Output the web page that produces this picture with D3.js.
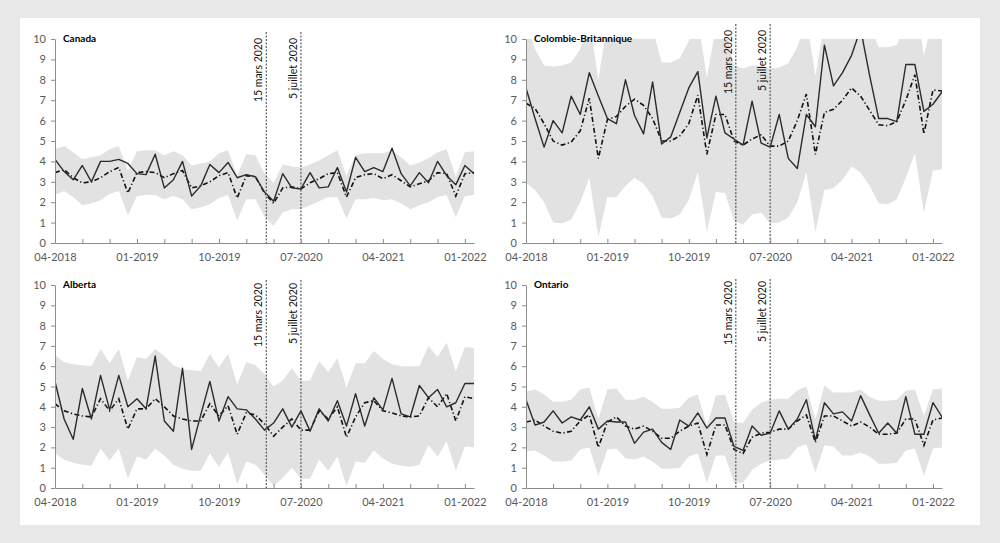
<!DOCTYPE html>
<html>
<head>
<meta charset="utf-8">
<script src="https://cdn.jsdelivr.net/npm/d3@7"></script>
<style>
  body { margin: 0; background: #e8e8e8; }
  svg { display: block; font-family: Lato, "Open Sans", sans-serif; }
</style>
</head>
<body>
<div id="chart"></div>
<script>
// Monthly series, 04-2018 .. 02-2022 (47 months)
const xLabels = ["04-2018", "01-2019", "10-2019", "07-2020", "04-2021", "01-2022"];
const eventLabels = ["15 mars 2020", "5 juillet 2020"];
const eventMonths = [23.2, 27.0]; // position on the month index axis

const canadaObs = [4.1,3.5,3.1,3.8,3.0,4.0,4.0,4.1,3.9,3.4, 3.35,4.35,2.7,3.1,4.0,2.3,2.8,3.85,3.45,3.95, 3.2,3.35,3.25,2.5,2.05,3.4,2.7,2.65,3.45,2.7, 2.75,3.7,2.5,4.2,3.5,3.7,3.5,4.65,3.4,2.8, 3.45,2.95,4.0,3.3,2.85,3.8,3.4];
const canadaPred = [3.45,3.6,3.2,2.95,3.0,3.2,3.5,3.7,2.45,3.45, 3.5,3.45,3.2,3.4,3.55,2.7,2.8,3.0,3.3,3.45, 2.2,3.3,3.25,2.45,1.95,2.7,2.75,2.65,2.95,3.15, 3.4,3.45,2.25,3.2,3.35,3.4,3.15,3.35,3.05,2.75, 2.9,3.05,3.45,3.4,2.3,3.4,3.45];
const canadaHigh = [4.6,4.75,4.45,4.1,4.2,4.3,4.6,4.75,3.55,4.5, 4.55,4.55,4.3,4.5,4.3,3.8,3.9,4.0,4.4,4.55, 3.3,4.35,4.3,3.4,2.95,3.85,3.75,3.7,3.85,4.05, 4.3,4.55,3.3,4.3,4.4,4.4,4.4,4.55,4.2,3.8, 3.95,4.15,4.45,4.6,3.25,4.45,4.5];
const canadaLow = [2.35,2.55,2.25,1.85,1.95,2.1,2.4,2.55,1.35,2.3, 2.35,2.35,2.15,2.3,2.15,1.65,1.75,1.9,2.2,2.35, 1.1,2.15,2.15,1.3,0.85,1.5,1.65,1.65,1.85,2.05, 2.25,2.25,1.2,2.15,2.15,2.2,2.1,2.15,1.95,1.65, 1.85,2.0,2.25,2.35,1.25,2.3,2.35];

const cbObs = [7.6,6.1,4.7,6.0,5.4,7.2,6.3,8.35,7.2,6.1, 5.85,8.0,6.25,5.35,7.9,4.85,5.2,6.4,7.6,8.4, 5.15,7.2,5.4,5.1,4.8,6.95,4.9,4.7,6.3,4.15, 3.65,6.3,5.7,9.7,7.7,8.35,9.2,10.5,8.2,6.1, 6.1,5.95,8.75,8.75,6.45,6.8,7.4];
const cbPred = [6.85,6.6,5.85,5.0,4.8,4.95,5.5,7.1,4.15,6.05, 6.2,6.7,7.05,6.75,6.1,5.0,5.0,5.25,5.85,7.25, 4.35,6.3,6.3,5.0,4.8,5.1,5.3,4.75,4.75,5.0, 6.0,7.3,4.35,6.4,6.55,7.0,7.6,7.2,6.5,5.8, 5.75,5.95,7.0,8.25,5.35,7.5,7.45];
const cbHigh = [10.8,9.5,8.7,8.65,8.7,8.85,9.5,11,8.0,10.8, 10.8,11,11,11,10.5,8.85,8.85,9.05,9.9,11, 8.1,10.6,10.6,8.7,8.55,8.7,8.7,8.55,8.6,8.8, 9.6,11,8.2,10.8,10.8,11,11.5,11,10.6,9.6, 9.6,9.7,10.8,12,9.2,11,11];
const cbLow = [2.95,2.6,2.0,1.0,0.95,1.15,2.0,3.2,0.3,2.25, 2.25,2.8,3.2,2.9,2.3,1.25,1.2,1.4,2.1,3.45, 0.55,2.5,2.45,1.1,0.9,1.4,1.5,0.95,1.0,1.25, 2.0,3.45,0.55,2.6,2.7,3.1,3.75,3.45,2.8,1.95, 1.9,2.15,3.2,4.4,1.5,3.55,3.6];

const abObs = [5.25,3.4,2.4,4.9,3.4,5.55,3.85,5.55,4.0,4.4, 3.9,6.5,3.3,2.8,5.9,1.9,3.6,5.25,3.3,4.5, 3.9,3.85,3.4,2.85,3.2,3.9,3.0,3.8,2.8,3.9, 3.3,4.3,3.05,4.65,3.05,4.45,3.85,5.4,3.65,3.5, 5.05,4.45,4.85,4.0,4.2,5.15,5.15];
const abPred = [4.15,3.8,3.65,3.55,3.5,4.4,3.8,4.4,2.9,3.9, 3.9,4.4,4.0,3.55,3.4,3.3,3.3,4.15,3.55,4.05, 2.65,3.7,3.6,3.15,2.55,3.0,3.4,2.85,2.85,3.8, 3.4,4.0,2.5,3.5,4.2,4.3,3.8,3.7,3.55,3.5, 3.55,4.45,4.0,4.65,3.3,4.5,4.4];
const abHigh = [6.55,6.2,6.1,6.05,6.0,6.85,6.15,6.85,5.3,6.45, 6.35,6.85,6.5,6.05,5.85,5.8,5.75,6.6,5.95,6.6, 5.1,6.2,6.05,5.6,5.0,5.3,5.9,5.3,5.3,6.25, 5.7,6.4,4.95,6.15,6.15,6.75,6.35,6.1,6.0,6.0, 6.0,7.0,6.45,7.15,5.75,6.95,6.9];
const abLow = [1.7,1.4,1.25,1.15,1.1,1.95,1.35,1.95,0.45,1.55, 1.4,1.95,1.6,1.15,0.95,0.85,0.85,1.7,1.05,1.75, 0.2,1.3,1.15,0.65,0.1,0.5,1.0,0.45,0.45,1.4, 0.85,1.55,0.1,1.3,1.25,1.85,1.45,1.2,1.1,1.05, 1.15,2.1,1.55,2.3,0.85,2.05,2.0];

const onObs = [4.35,3.1,3.25,3.8,3.2,3.5,3.35,4.0,2.9,3.3, 3.25,3.25,2.2,2.75,2.9,2.25,1.9,3.35,3.05,3.7, 2.95,3.45,3.45,2.05,1.85,3.05,2.6,2.7,3.8,2.9, 3.4,4.35,2.35,4.2,3.65,3.75,3.3,4.55,3.6,2.7, 3.2,2.7,4.5,2.65,2.65,4.2,3.5];
const onPred = [3.25,3.35,3.05,2.8,2.7,2.8,3.3,3.6,2.0,3.25, 3.5,3.05,2.9,3.05,2.8,2.45,2.45,2.8,3.05,3.2, 1.65,3.1,3.1,1.9,1.7,2.5,2.7,2.75,2.9,2.9, 3.3,3.6,2.25,3.55,3.55,3.3,3.05,3.25,3.0,2.65, 2.65,2.7,3.4,3.4,2.1,3.35,3.45];
const onHigh = [4.75,4.85,4.6,4.25,4.25,4.35,4.85,4.95,3.4,4.85, 4.9,4.35,4.35,4.5,4.25,3.9,3.9,3.95,4.45,4.6, 3.05,4.55,4.6,3.25,3.2,3.85,4.2,4.35,4.4,4.4, 4.8,5.0,3.4,5.05,4.7,4.7,4.7,4.85,4.5,4.3, 4.3,4.35,4.8,4.85,3.55,4.85,4.9];
const onLow = [1.8,1.85,1.6,1.3,1.3,1.35,1.9,2.0,0.6,1.9, 1.95,1.45,1.4,1.55,1.3,0.95,0.95,1.0,1.55,1.7, 0.25,1.6,1.6,0.3,0.25,0.9,1.2,1.35,1.4,1.45, 2.0,2.15,0.75,2.1,2.05,1.6,1.6,1.75,1.55,1.2, 1.2,1.25,1.85,1.95,0.6,1.95,2.0];

// Panels
const panels = [
  { name: "Canada", obs: canadaObs, pred: canadaPred, high: canadaHigh, low: canadaLow,
    left: 55, right: 474, top: 39, bottom: 243, markTop: 32, labelTop: 38 },
  { name: "Colombie-Britannique", obs: cbObs, pred: cbPred, high: cbHigh, low: cbLow,
    left: 526, right: 942, top: 39, bottom: 243, markTop: 24, labelTop: 30 },
  { name: "Alberta", obs: abObs, pred: abPred, high: abHigh, low: abLow,
    left: 55, right: 474, top: 285, bottom: 488, markTop: 280, labelTop: 283 },
  { name: "Ontario", obs: onObs, pred: onPred, high: onHigh, low: onLow,
    left: 526, right: 942, top: 285, bottom: 488, markTop: 279, labelTop: 281 }
];

const width = 1000;
const height = 543;

const svg = d3.select("#chart").append("svg")
  .attr("width", width)
  .attr("height", height);

// Frame
svg.append("rect").attr("width", width).attr("height", height).attr("fill", "#e8e8e8");
svg.append("rect").attr("x", 20).attr("y", 18).attr("width", 960).attr("height", 507).attr("fill", "#fff");

panels.forEach((p, pi) => {
  const n = p.obs.length;
  const x = d3.scaleLinear().domain([0, n - 1]).range([p.left, p.right]);
  const y = d3.scaleLinear().domain([0, 10]).range([p.bottom, p.top]);

  const clipId = "clip" + pi;
  svg.append("clipPath").attr("id", clipId)
    .append("rect")
      .attr("x", p.left).attr("y", p.top)
      .attr("width", p.right - p.left).attr("height", p.bottom - p.top);

  const g = svg.append("g");
  const plot = g.append("g").attr("clip-path", `url(#${clipId})`);

  // Confidence band
  const band = d3.area()
    .x((d, i) => x(i))
    .y0((d, i) => y(p.low[i]))
    .y1((d, i) => y(p.high[i]));

  plot.append("path")
    .datum(p.high)
    .attr("fill", "#e2e2e2")
    .attr("d", band);

  // Event markers
  eventMonths.forEach((m, i) => {
    g.append("line")
      .attr("x1", x(m)).attr("x2", x(m))
      .attr("y1", p.markTop).attr("y2", p.bottom)
      .attr("stroke", "#5a5a5a")
      .attr("stroke-width", 1.2)
      .attr("stroke-dasharray", "2,1.5");

    g.append("text")
      .attr("transform", `translate(${x(m) - 4},${p.labelTop}) rotate(-90)`)
      .attr("text-anchor", "end")
      .attr("font-size", 10.5)
      .attr("fill", "#111")
      .text(eventLabels[i]);
  });

  const line = d3.line()
    .x((d, i) => x(i))
    .y(d => y(d));

  // Predicted (dash-dot)
  plot.append("path")
    .datum(p.pred)
    .attr("fill", "none")
    .attr("stroke", "#111")
    .attr("stroke-width", 1.6)
    .attr("stroke-dasharray", "5,2.5,1.2,2.5")
    .attr("d", line);

  // Observed (solid)
  plot.append("path")
    .datum(p.obs)
    .attr("fill", "none")
    .attr("stroke", "#2b2b2b")
    .attr("stroke-width", 1.4)
    .attr("stroke-linejoin", "round")
    .attr("d", line);

  // Axes
  const yAxis = g.append("g")
    .attr("transform", `translate(${p.left},0)`)
    .call(d3.axisLeft(y).ticks(10).tickSize(4).tickSizeOuter(0).tickPadding(5));

  const xAxis = g.append("g")
    .attr("transform", `translate(0,${p.bottom})`)
    .call(d3.axisBottom(x)
      .tickValues(d3.range(0, n - 1, 3))
      .tickSize(-4)
      .tickSizeOuter(0)
      .tickPadding(10)
      .tickFormat(i => (i % 9 === 0 ? xLabels[i / 9] : "")));

  [yAxis, xAxis].forEach(ax => {
    ax.select(".domain").attr("stroke", "#8c8c8c");
    ax.selectAll(".tick line").attr("stroke", "#8c8c8c");
    ax.selectAll(".tick text")
      .attr("fill", "#595959")
      .attr("font-size", 11)
      .attr("font-family", "Lato, sans-serif");
  });

  // Panel title
  g.append("text")
    .attr("x", p.left + 8)
    .attr("y", p.top + 3)
    .attr("font-size", 10)
    .attr("font-weight", "bold")
    .attr("fill", "#000")
    .text(p.name);
});
</script>
</body>
</html>
